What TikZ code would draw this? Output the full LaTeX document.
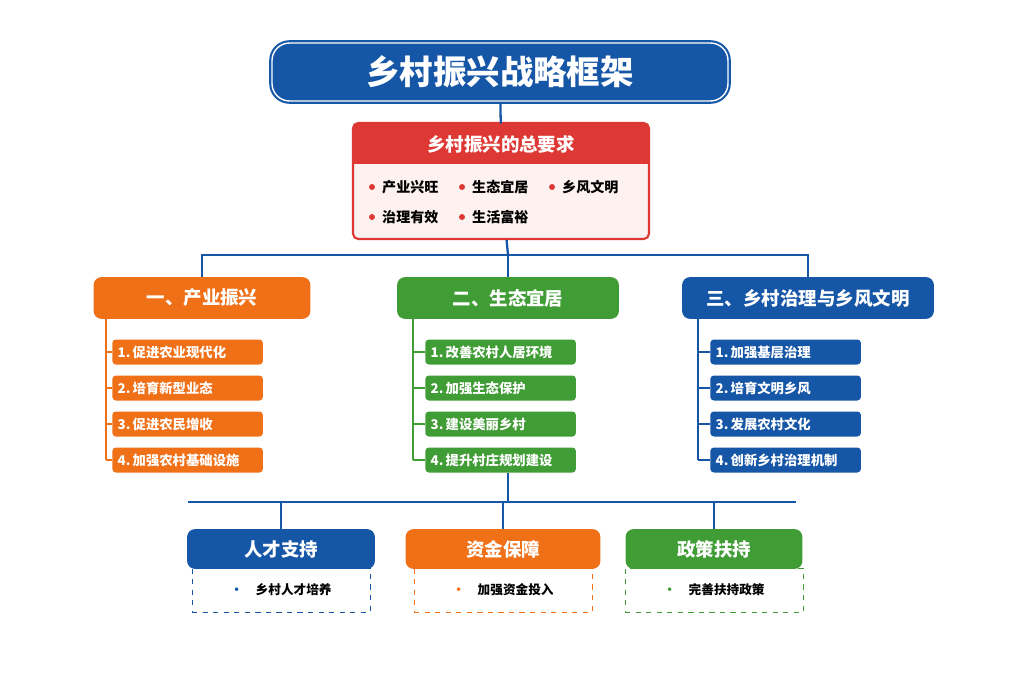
\documentclass[tikz,border=0pt]{standalone}
\usepackage{fontspec}
\setmainfont{Noto Sans CJK SC}
\usepackage{tikz}
\usetikzlibrary{positioning,calc}
\definecolor{ruralblue}{RGB}{22,86,166}
\definecolor{ruralred}{RGB}{222,56,52}
\definecolor{ruralorange}{RGB}{240,112,24}
\definecolor{ruralgreen}{RGB}{64,156,52}
\definecolor{reqbody}{RGB}{253,242,240}
\tikzset{
    title/.style={rectangle, draw=ruralblue, line width=1.2pt, fill=ruralblue, text=white, rounded corners=10pt, minimum width=456*0.02cm, minimum height=58*0.02cm, font=\fontsize{19}{22}\selectfont\bfseries, double=white, double distance=0.8pt},
    head/.style={rectangle, draw=#1, line width=1pt, fill=#1, text=white, rounded corners=4pt, minimum height=40*0.02cm, font=\fontsize{10.5}{12}\selectfont\bfseries},
    item/.style={rectangle, fill=#1, text=white, rounded corners=2pt, minimum height=25*0.02cm, anchor=west, inner sep=3pt, text width=140*0.02cm, font=\fontsize{7.6}{9}\selectfont\bfseries},
    note/.style={rectangle, draw=#1, dashed, minimum width=178*0.02cm, minimum height=44*0.02cm, font=\fontsize{7.2}{9}\selectfont\bfseries},
    tree/.style={draw=ruralblue, line width=1.3pt},
    bullet/.style={circle, fill=#1, inner sep=1.2pt}
}
\begin{document}
\begin{tikzpicture}[x=0.02cm, y=-0.02cm]
    \useasboundingbox (0,0) rectangle (1024,683);
    % Title and general requirements
    \node [title] (title) at (500,72) {乡村振兴战略框架};
    \node [rectangle, draw=ruralred, line width=1.2pt, fill=reqbody, rounded corners=3pt, minimum width=296*0.02cm, minimum height=116*0.02cm] (req) at (501,181) {};
    \node [rectangle, fill=ruralred, minimum width=294*0.02cm, minimum height=40*0.02cm, text=white, font=\fontsize{10.5}{12}\selectfont\bfseries] (reqhead) at (501,144) {乡村振兴的总要求};
    \foreach \x/\y/\t in {372/187/产业兴旺, 462/187/生态宜居, 552/187/乡风文明, 372/217/治理有效, 462/217/生活富裕} {
        \node [bullet=ruralred] at (\x,\y) {};
        \node [anchor=west, font=\fontsize{8}{10}\selectfont\bfseries] at (\x+4,\y) {\t};
    }
    \draw [tree] (title) -- (reqhead);

    % Three pillars
    \node [head=ruralorange, minimum width=215*0.02cm] (ind) at (202,298) {一、产业振兴};
    \node [head=ruralgreen, minimum width=220*0.02cm] (eco) at (508,298) {二、生态宜居};
    \node [head=ruralblue, minimum width=250*0.02cm] (gov) at (808,298) {三、乡村治理与乡风文明};
    \coordinate (split) at (508,255);
    \draw [tree] (req) -- (split);
    \draw [tree] (ind.north) |- (split) -| (gov.north);
    \draw [tree] (split) -- (eco);

    \foreach \col/\x/\lx/\name/\items in {
        ruralorange/112/106/ind/{促进农业现代化,培育新型业态,促进农民增收,加强农村基础设施},
        ruralgreen/425/413/eco/{改善农村人居环境,加强生态保护,建设美丽乡村,提升村庄规划建设},
        ruralblue/710/698/gov/{加强基层治理,培育文明乡风,发展农村文化,创新乡村治理机制}} {
        \foreach \t [count=\i] in \items {
            \node [item=\col] (\name\i) at (\x,316+36*\i) {\i.\,\t};
            \draw [draw=\col, line width=1.2pt] (\lx,316+36*\i) -- (\name\i);
        }
        \draw [draw=\col, line width=1.2pt] (\lx,318) -- (\lx,460);
    }

    % Support measures
    \coordinate (base) at (508,502);
    \draw [tree] (eco4) ++(0,0) (508,473) -- (base);
    \draw [tree] (188,502) -- (796,502);
    \foreach \col/\x/\w/\name/\h/\t in {
        ruralblue/281/186/talent/人才支持/乡村人才培养,
        ruralorange/503/193/fund/资金保障/加强资金投入,
        ruralgreen/714/175/policy/政策扶持/完善扶持政策} {
        \node [note=\col] (\name note) at (\x,590) {\textcolor{\col}{\textbullet}\quad \t};
        \node [head=\col, minimum width=\w*0.02cm, minimum height=38*0.02cm] (\name) at (\x,549) {\h};
        \draw [tree] (\x,502) -- (\name);
    }
\end{tikzpicture}
\end{document}
